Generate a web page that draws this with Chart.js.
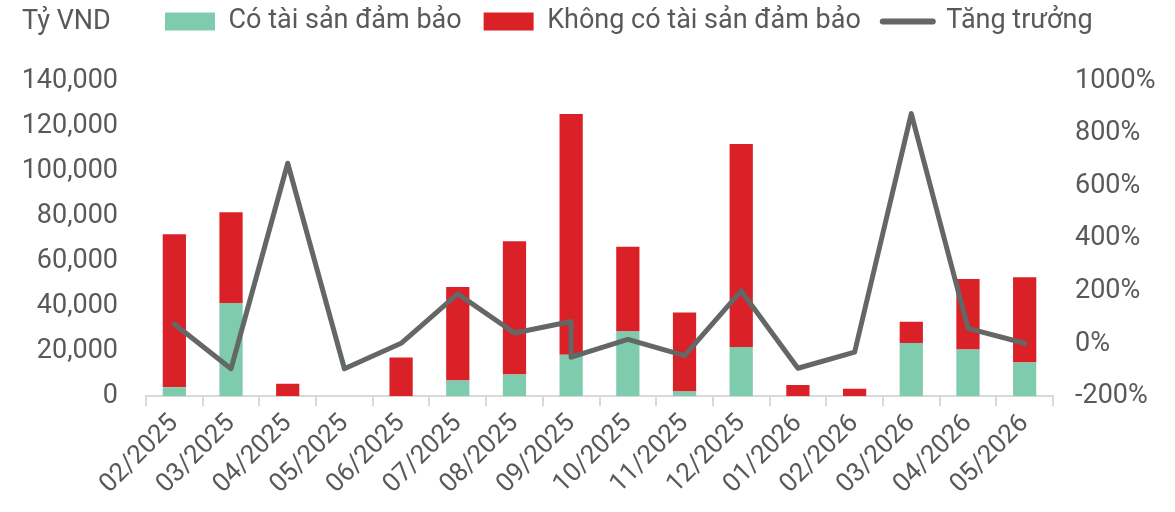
<!DOCTYPE html>
<html>
<head>
<meta charset="utf-8">
<script src="https://cdn.jsdelivr.net/npm/chart.js@4.4.1/dist/chart.umd.min.js"></script>
<style>
  html, body { margin: 0; padding: 0; background: #fff; }
  #wrap { width: 1175px; height: 512px; position: relative; }
</style>
</head>
<body>
<div id="wrap"><canvas id="chartTinDung"></canvas></div>
<script>
// du lieu doc tu hinh
const thang = ["02/2025", "03/2025", "04/2025", "05/2025", "06/2025", "07/2025", "08/2025", "09/2025",
  "10/2025", "11/2025", "12/2025", "01/2026", "02/2026", "03/2026", "04/2026", "05/2026"];
const coTSDB = [4000, 41500, 0, 0, 0, 7000, 9700, 18500, 28800, 2200, 21900, 0, 0, 23700, 20800, 15000];
const khongTSDB = [68000, 40200, 5600, 0, 17200, 41600, 59200, 106800, 37600, 35000, 90100, 5000, 3400, 9400, 31300, 37900];
// duong tang truong co 2 diem o 09/2025
const thangTangTruong = ["02/2025", "03/2025", "04/2025", "05/2025", "06/2025", "07/2025", "08/2025", "09/2025", "09/2025",
  "10/2025", "11/2025", "12/2025", "01/2026", "02/2026", "03/2026", "04/2026", "05/2026"];
const tangTruong = [75, -95, 687, -95, 2, 190, 41, 85, -51, 17, -45, 201, -93, -32, 876, 59, 2];

const mauChu = "#595959";
const font = "Roboto";

const tenDonVi = {
  id: "tenDonVi",
  afterLayout(chart) {
    // day legend sang phai va len tren
    const lg = chart.legend;
    const h = lg.bottom - lg.top;
    lg.left = 143;
    lg.right = 143 + lg.width;
    lg.top = -14;
    lg.bottom = lg.top + h;
  },
  afterDraw(chart) {
    const ctx = chart.ctx;
    ctx.save();
    ctx.font = "27px " + font;
    ctx.fillStyle = mauChu;
    ctx.textBaseline = "middle";
    ctx.fillText("Tỷ VND", 22, 22);
    ctx.restore();
  },
};

document.addEventListener("DOMContentLoaded", () => {
  new Chart(document.querySelector("#chartTinDung"), {
    type: "bar",
    data: {
      labels: thang,
      datasets: [
        {
          type: "line",
          label: "Tăng trưởng",
          data: thangTangTruong.map((t, i) => ({ x: t, y: tangTruong[i] })),
          yAxisID: "y1",
          borderColor: "#636766",
          backgroundColor: "#636766",
          borderWidth: 5,
          pointRadius: 0,
          borderCapStyle: "round",
          borderJoinStyle: "round",
          tension: 0,
          order: 0,
        },
        {
          label: "Có tài sản đảm bảo",
          data: coTSDB,
          backgroundColor: "#7fcbad",
          yAxisID: "y",
          order: 1,
        },
        {
          label: "Không có tài sản đảm bảo",
          data: khongTSDB,
          backgroundColor: "#da2128",
          yAxisID: "y",
          order: 2,
        },
      ],
    },
    options: {
      responsive: true,
      maintainAspectRatio: false,
      animation: false,
      categoryPercentage: 1,
      barPercentage: 0.41,
      layout: { padding: { top: 22, left: 0, right: 0, bottom: 10 } },
      scales: {
        x: {
          stacked: true,
          offset: true,
          grid: { display: true, drawOnChartArea: false, offset: true, color: "#d9d9d9", lineWidth: 2, tickLength: 10 },
          border: { color: "#d9d9d9", width: 2 },
          ticks: { color: mauChu, font: { family: font, size: 26 }, minRotation: 45, maxRotation: 45, autoSkip: false, padding: 2 },
        },
        y: {
          stacked: true,
          min: 0,
          max: 140000,
          grid: { display: false, drawTicks: false },
          border: { display: false },
          afterFit: (s) => { s.width = 146; },
          ticks: {
            stepSize: 20000,
            color: mauChu,
            font: { family: font, size: 27 },
            padding: 28,
            callback: (v) => v.toLocaleString("en-US"),
          },
        },
        y1: {
          position: "right",
          min: -200,
          max: 1000,
          grid: { display: false, drawTicks: false },
          border: { display: false },
          afterFit: (s) => { s.width = 122; },
          ticks: {
            stepSize: 200,
            color: mauChu,
            font: { family: font, size: 27 },
            padding: 22,
            callback: (v) => v + "%",
          },
        },
      },
      plugins: {
        tooltip: { enabled: false },
        legend: {
          position: "top",
          align: "start",
          labels: {
            color: mauChu,
            font: { family: font, size: 27 },
            boxWidth: 50,
            boxHeight: 18,
            padding: 22,
            usePointStyle: true,
            pointStyleWidth: 50,
            generateLabels: () => [
              { text: "Có tài sản đảm bảo", fillStyle: "#7fcbad", strokeStyle: "#7fcbad", lineWidth: 0, pointStyle: "rect", fontColor: mauChu },
              { text: "Không có tài sản đảm bảo", fillStyle: "#da2128", strokeStyle: "#da2128", lineWidth: 0, pointStyle: "rect", fontColor: mauChu },
              { text: "Tăng trưởng", fillStyle: "#636766", strokeStyle: "#636766", lineWidth: 6, lineCap: "round", pointStyle: "line", fontColor: mauChu },
            ],
          },
        },
      },
    },
    plugins: [tenDonVi],
  });
});
</script>
</body>
</html>
